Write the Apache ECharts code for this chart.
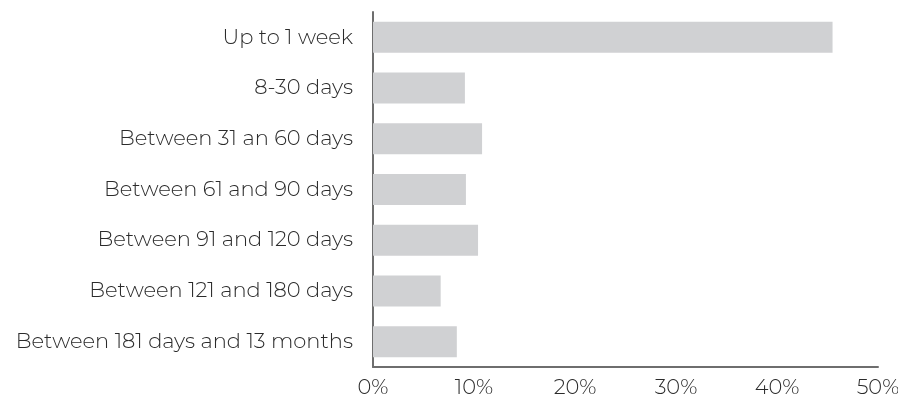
<!DOCTYPE html>
<html>
<head>
<meta charset="utf-8">
<script src="https://cdn.jsdelivr.net/npm/echarts@6/dist/echarts.min.js"></script>
<style>html,body{margin:0;padding:0;background:#fff;}#c{width:898px;height:405px;}</style>
</head>
<body>
<div id="c"></div>
<script>
const categories = ["Up to 1 week","8-30 days","Between 31 an 60 days","Between 61 and 90 days","Between 91 and 120 days","Between 121 and 180 days","Between 181 days and 13 months"];
const values = [45.5, 9.1, 10.8, 9.2, 10.4, 6.7, 8.3];
const xTicks = [0, 10, 20, 30, 40, 50];

const chart = echarts.init(document.getElementById('c'));
const font = 'Montserrat, "Open Sans", sans-serif';
chart.setOption({
  animation: false,
  grid: {left: 373, right: 20, top: 12, bottom: 38, containLabel: false, outerBoundsMode: 'none'},
  xAxis: {
    type: 'value', min: xTicks[0], max: xTicks[xTicks.length-1], interval: 10,
    axisLine: {show: true, lineStyle: {color: '#6e6e6e', width: 2}},
    axisTick: {show: false},
    splitLine: {show: false},
    axisLabel: {formatter: v => v + '%', color: '#2b2b2b', fontSize: 21, fontWeight: 300, fontFamily: font, margin: 10}
  },
  yAxis: {
    type: 'category', data: categories, inverse: true,
    axisLine: {show: true, lineStyle: {color: '#6e6e6e', width: 2}},
    axisTick: {show: false},
    axisLabel: {color: '#2b2b2b', fontSize: 21, fontWeight: 300, fontFamily: font, margin: 20}
  },
  series: [{
    type: 'bar', data: values, barWidth: 31,
    itemStyle: {color: '#d0d1d3'}
  }]
});
</script>
</body>
</html>
